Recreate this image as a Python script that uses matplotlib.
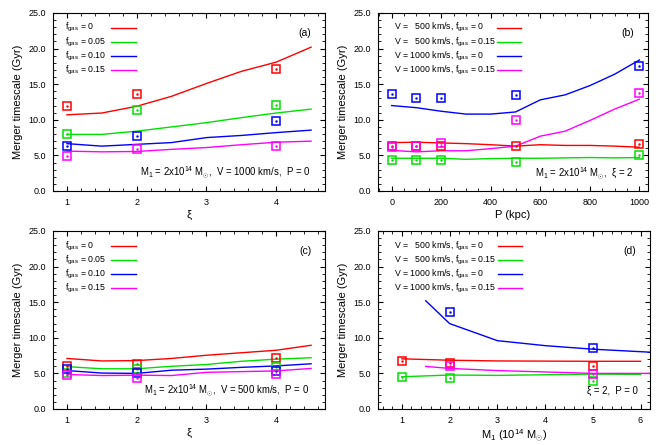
import matplotlib
matplotlib.use("Agg")
import matplotlib.pyplot as plt
from matplotlib.ticker import MultipleLocator, FormatStrFormatter

plt.rcParams['font.family'] = ['Liberation Sans', 'DejaVu Sans']
plt.rcParams['mathtext.fontset'] = 'custom'
plt.rcParams['mathtext.rm'] = 'Liberation Sans'
plt.rcParams['mathtext.it'] = 'Liberation Sans:italic'

colors = ['#ff0000', '#00e000', '#0000ff', '#ff00ff']

# panel (a): xi dependence, V = 1000 km/s
xi_line = [1, 1.5, 2, 2.5, 3, 3.5, 4, 4.5]
a_lines = [
    [10.7, 10.95, 11.9, 13.3, 15.1, 16.8, 18.1, 20.2],
    [7.95, 7.95, 8.4, 9.0, 9.6, 10.3, 10.95, 11.5],
    [6.65, 6.3, 6.55, 6.8, 7.5, 7.8, 8.2, 8.55],
    [5.6, 5.5, 5.55, 5.85, 6.1, 6.5, 6.85, 7.0],
]
xi_pts = [1, 2, 4]
a_pts = [
    [11.9, 13.6, 17.1],
    [7.95, 11.4, 12.1],
    [6.27, 7.7, 9.9],
    [4.9, 5.95, 6.3],
]
a_labels = [r'$\rm f_{gas}$ = 0', r'$\rm f_{gas}$ = 0.05',
            r'$\rm f_{gas}$ = 0.10', r'$\rm f_{gas}$ = 0.15']

# panel (b): impact parameter dependence
p_line = [0, 100, 200, 300, 400, 500, 600, 700, 800, 900, 1000]
b_lines = [
    [6.8, 6.85, 6.75, 6.65, 6.5, 6.3, 6.5, 6.4, 6.4, 6.3, 6.15],
    [4.6, 4.6, 4.6, 4.45, 4.55, 4.6, 4.6, 4.65, 4.7, 4.65, 4.7],
    [12.0, 11.7, 11.2, 10.8, 10.8, 11.1, 12.8, 13.5, 14.8, 16.4, 18.4],
    [5.7, 5.5, 5.65, 5.65, 5.95, 6.3, 7.7, 8.4, 9.9, 11.5, 12.9],
]
p_pts = [0, 100, 200, 500, 1000]
b_pts = [
    [6.3, 6.3, 6.3, 6.35, 6.55],
    [4.3, 4.3, 4.3, 4.07, 5.1],
    [13.6, 13.0, 13.1, 13.5, 17.55],
    [6.2, 6.3, 6.75, 10.0, 13.7],
]
vb_labels = [r'V =   500 km/s, $\rm f_{gas}$ = 0', r'V =   500 km/s, $\rm f_{gas}$ = 0.15',
             r'V = 1000 km/s, $\rm f_{gas}$ = 0', r'V = 1000 km/s, $\rm f_{gas}$ = 0.15']

# panel (c): xi dependence, V = 500 km/s
c_lines = [
    [7.1, 6.75, 6.8, 7.1, 7.55, 7.9, 8.25, 8.95],
    [5.95, 5.65, 5.65, 6.0, 6.25, 6.7, 7.0, 7.2],
    [5.4, 5.05, 5.0, 5.45, 5.6, 5.85, 6.05, 6.35],
    [4.85, 4.7, 4.75, 4.7, 5.15, 5.25, 5.35, 5.7],
]
c_pts = [
    [6.0, 6.35, 7.1],
    [5.0, 5.6, 5.85],
    [5.6, 5.1, 5.3],
    [4.75, 4.4, 4.95],
]

# panel (d): mass dependence
m_line_lo = [1, 2, 3, 5, 6]
m_line_hi = [1.5, 2, 3, 4, 5, 6, 7]
d_lines = [
    (m_line_lo, [7.05, 6.85, 6.75, 6.7, 6.7]),
    (m_line_lo, [4.53, 4.77, 4.72, 4.9, 4.86]),
    (m_line_hi, [15.2, 12.0, 9.6, 8.9, 8.4, 8.05, 7.7]),
    (m_line_hi, [5.98, 5.7, 5.4, 5.2, 5.0, 5.0, 5.0]),
]
d_pts = [
    ([1, 2, 5], [6.78, 6.4, 6.0]),
    ([1, 2, 5], [4.53, 4.3, 3.97]),
    ([2, 5], [13.64, 8.6]),
    ([2, 5], [6.05, 4.9]),
]

fig = plt.figure(figsize=(6.64, 4.45), dpi=100)
ax_a = fig.add_axes([0.0798, 0.5708, 0.4097, 0.400])
ax_b = fig.add_axes([0.5693, 0.5708, 0.4067, 0.400])
ax_c = fig.add_axes([0.0798, 0.0809, 0.4097, 0.400])
ax_d = fig.add_axes([0.5693, 0.0809, 0.4097, 0.400])


def squares(ax, x, y, c):
    ax.plot(x, y, ls='none', marker='s', ms=5.3, mfc='none', mec=c, mew=1.1, zorder=3)
    ax.plot(x, y, ls='none', marker='.', ms=1.5, color=c, zorder=3)


def style(ax, xlim, xmaj, xmin, xlabel):
    ax.set_xlim(*xlim)
    ax.set_ylim(0, 25)
    ax.xaxis.set_major_locator(MultipleLocator(xmaj))
    ax.xaxis.set_minor_locator(MultipleLocator(xmin))
    ax.yaxis.set_major_locator(MultipleLocator(5))
    ax.yaxis.set_minor_locator(MultipleLocator(1))
    ax.yaxis.set_major_formatter(FormatStrFormatter('%.1f'))
    ax.tick_params(which='both', direction='in', top=True, right=True, labelsize=6.5, pad=5)
    ax.tick_params(which='major', length=3.5, width=0.8)
    ax.tick_params(which='minor', length=2, width=0.6)
    for s in ax.spines.values():
        s.set_linewidth(0.8)
    ax.set_ylabel('Merger timescale (Gyr)', fontsize=8, labelpad=4)
    ax.set_xlabel(xlabel, fontsize=8, labelpad=2)


def legend(ax, labels, x_text, x0, x1):
    # gnuplot-style key: text left-justified, line sample to the right
    for i, lab in enumerate(labels):
        y = 0.916 - i * 0.0787
        ax.text(x_text, y, lab, transform=ax.transAxes, ha='left', va='center', fontsize=6.3)
        ax.plot([x0, x1], [y, y], transform=ax.transAxes, color=colors[i], lw=1.0)


# (a)
for i in range(4):
    ax_a.plot(xi_line, a_lines[i], color=colors[i], lw=1.0)
    squares(ax_a, xi_pts, a_pts[i], colors[i])
style(ax_a, (0.8, 4.7), 1, 0.2, 'ξ')
legend(ax_a, a_labels, 0.044, 0.215, 0.305)
ax_a.text(0.95, 0.89, '(a)', transform=ax_a.transAxes, ha='right', va='center', fontsize=7.5)
ax_a.text(0.947, 0.10, r'M$_1$ = 2x10$^{14}$ M$_{\odot}$,  V = 1000 km/s,  P = 0',
          transform=ax_a.transAxes, ha='right', va='center', fontsize=6.9)

# (b)
for i in range(4):
    ax_b.plot(p_line, b_lines[i], color=colors[i], lw=1.0)
    squares(ax_b, p_pts, b_pts[i], colors[i])
style(ax_b, (-55, 1035), 200, 50, 'P (kpc)')
legend(ax_b, vb_labels, 0.059, 0.44, 0.53)
ax_b.text(0.95, 0.89, '(b)', transform=ax_b.transAxes, ha='right', va='center', fontsize=7.5)
ax_b.text(0.947, 0.10, r'M$_1$ = 2x10$^{14}$ M$_{\odot}$,  ξ = 2',
          transform=ax_b.transAxes, ha='right', va='center', fontsize=6.9)

# (c)
for i in range(4):
    ax_c.plot(xi_line, c_lines[i], color=colors[i], lw=1.0)
    squares(ax_c, xi_pts, c_pts[i], colors[i])
style(ax_c, (0.8, 4.7), 1, 0.2, 'ξ')
legend(ax_c, a_labels, 0.044, 0.215, 0.305)
ax_c.text(0.95, 0.89, '(c)', transform=ax_c.transAxes, ha='right', va='center', fontsize=7.5)
ax_c.text(0.94, 0.10, r'M$_1$ = 2x10$^{14}$ M$_{\odot}$,  V = 500 km/s,  P = 0',
          transform=ax_c.transAxes, ha='right', va='center', fontsize=6.9)

# (d)
for i in range(4):
    ax_d.plot(d_lines[i][0], d_lines[i][1], color=colors[i], lw=1.0)
    squares(ax_d, d_pts[i][0], d_pts[i][1], colors[i])
style(ax_d, (0.5, 6.2), 1, 0.2, r'M$_1$ (10$^{14}$ M$_{\odot}$)')
legend(ax_d, vb_labels, 0.058, 0.44, 0.53)
ax_d.text(0.95, 0.89, '(d)', transform=ax_d.transAxes, ha='right', va='center', fontsize=7.5)
ax_d.text(0.955, 0.10, 'ξ = 2,  P = 0',
          transform=ax_d.transAxes, ha='right', va='center', fontsize=6.9)

fig.savefig('out.png', dpi=100)
